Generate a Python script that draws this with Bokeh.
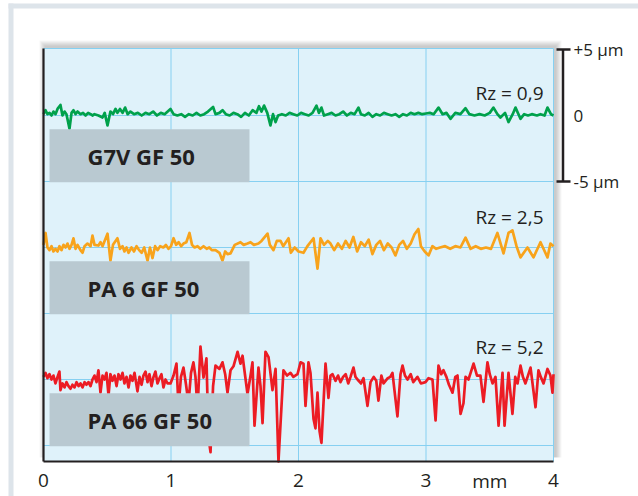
from bokeh.plotting import figure
from bokeh.models import Range1d, Grid
from bokeh.core.properties import value
from bokeh.embed import file_html
from bokeh.resources import INLINE

# ---------------- data ----------------
x_ticks = [0, 1, 2, 3, 4]
x_tick_labels = ["0", "1", "2", "3", "4"]
x_unit = "mm"
y_grid = [0, -5, -10, -15, -20, -25]
samples = ["G7V GF 50", "PA 6 GF 50", "PA 66 GF 50"]
rz_labels = ["Rz = 0,9", "Rz = 2,5", "Rz = 5,2"]
scale_ticks = [5, 0, -5]
scale_labels = ["+5 µm", "0", "-5 µm"]

# profile of G7V GF 50 (mm, µm)
green_x = [0.000, 0.016, 0.031, 0.047, 0.063, 0.078, 0.094, 0.110, 0.133, 0.149, 0.165, 0.180,
           0.204, 0.220, 0.235, 0.251, 0.267, 0.290, 0.310, 0.330, 0.350, 0.370, 0.384, 0.400,
           0.431, 0.463, 0.480, 0.502, 0.525, 0.545, 0.565, 0.580, 0.600, 0.620, 0.640, 0.660,
           0.682, 0.710, 0.740, 0.770, 0.800, 0.830, 0.860, 0.890, 0.920, 0.950, 0.996, 1.020,
           1.050, 1.080, 1.110, 1.140, 1.170, 1.200, 1.230, 1.260, 1.290, 1.330, 1.349, 1.380,
           1.404, 1.430, 1.460, 1.490, 1.520, 1.550, 1.580, 1.610, 1.640, 1.670, 1.690, 1.710,
           1.730, 1.755, 1.780, 1.800, 1.820, 1.840, 1.870, 1.900, 1.930, 1.960, 1.990, 2.020,
           2.050, 2.080, 2.110, 2.141, 2.160, 2.180, 2.200, 2.230, 2.260, 2.290, 2.320, 2.350,
           2.380, 2.410, 2.440, 2.470, 2.490, 2.520, 2.550, 2.580, 2.610, 2.640, 2.670, 2.700,
           2.730, 2.760, 2.790, 2.820, 2.850, 2.880, 2.910, 2.940, 2.970, 3.000, 3.030, 3.060,
           3.098, 3.130, 3.160, 3.192, 3.230, 3.270, 3.310, 3.340, 3.380, 3.420, 3.460, 3.500,
           3.529, 3.560, 3.584, 3.620, 3.647, 3.680, 3.702, 3.741, 3.770, 3.800, 3.830, 3.870,
           3.898, 3.930, 3.953, 3.980, 4.000]
green_y = [0.1, 0.4, 0.1, 0.2, 0.0, 0.3, 0.1, 0.5, 0.8, 0.0, 0.3, 0.1,
           -1.0, 0.2, 0.4, 0.1, 0.3, 0.1, 0.2, 0.0, 0.2, 0.1, 0.0, 0.1,
           0.0, -0.15, 0.2, -0.75, 0.3, 0.1, 0.5, 0.2, 0.5, 0.2, 0.6, 0.1,
           0.3, 0.1, 0.2, 0.0, 0.2, 0.1, 0.3, 0.0, 0.2, 0.1, 0.5, 0.1,
           0.0, 0.1, -0.1, 0.1, 0.0, 0.2, 0.0, 0.1, 0.3, 0.65, 0.1, 0.2,
           0.4, 0.1, 0.0, 0.2, 0.1, -0.1, 0.2, 0.0, 0.4, 0.2, 0.7, 0.3,
           0.75, 0.2, -0.75, 0.1, -0.5, 0.0, 0.1, 0.0, 0.2, 0.1, 0.0, 0.2,
           0.1, 0.0, 0.2, 0.75, 0.2, 0.6, 0.0, 0.1, 0.2, 0.0, 0.1, 0.3,
           0.0, 0.2, 0.1, 0.6, 0.1, 0.0, 0.2, -0.1, 0.1, 0.0, 0.2, 0.1,
           0.0, 0.1, -0.1, 0.1, 0.0, 0.2, 0.1, 0.2, 0.1, 0.15, 0.2, 0.1,
           0.6, 0.1, 0.2, -0.25, 0.2, 0.1, 0.55, 0.1, 0.0, 0.1, 0.0, 0.2,
           0.6, 0.1, -0.15, 0.2, -0.5, 0.1, 0.6, -0.25, 0.1, 0.0, 0.1, 0.0,
           0.1, 0.0, 0.6, 0.1, 0.0]

# profile of PA 6 GF 50 (mm, µm)
orange_x = [0.000, 0.016, 0.031, 0.047, 0.063, 0.078, 0.094, 0.110, 0.125, 0.141, 0.157, 0.173,
            0.188, 0.204, 0.220, 0.235, 0.251, 0.267, 0.290, 0.306, 0.322, 0.345, 0.369, 0.384,
            0.400, 0.431, 0.447, 0.463, 0.502, 0.525, 0.545, 0.580, 0.600, 0.620, 0.635, 0.651,
            0.667, 0.690, 0.710, 0.730, 0.750, 0.770, 0.790, 0.816, 0.835, 0.855, 0.875, 0.894,
            0.915, 0.940, 0.960, 0.980, 1.000, 1.020, 1.040, 1.060, 1.080, 1.098, 1.120, 1.145,
            1.165, 1.185, 1.208, 1.230, 1.255, 1.280, 1.300, 1.320, 1.349, 1.380, 1.404, 1.425,
            1.443, 1.467, 1.500, 1.545, 1.570, 1.600, 1.624, 1.650, 1.686, 1.710, 1.757, 1.775,
            1.804, 1.830, 1.859, 1.880, 1.922, 1.940, 1.970, 2.000, 2.039, 2.070, 2.118, 2.149,
            2.173, 2.200, 2.230, 2.251, 2.280, 2.310, 2.340, 2.370, 2.400, 2.430, 2.460, 2.490,
            2.520, 2.550, 2.580, 2.610, 2.640, 2.670, 2.700, 2.730, 2.760, 2.790, 2.820, 2.850,
            2.880, 2.910, 2.940, 2.960, 2.990, 3.020, 3.050, 3.080, 3.110, 3.150, 3.190, 3.230,
            3.270, 3.310, 3.350, 3.390, 3.430, 3.470, 3.510, 3.560, 3.608, 3.647, 3.678, 3.710,
            3.741, 3.796, 3.843, 3.898, 3.953, 3.976, 4.000]
orange_y = [0.2, 1.1, 0.0, -0.2, 0.1, -0.3, -0.1, -0.3, 0.1, -0.2, 0.2, 0.0,
            0.3, -0.1, 0.2, 0.7, -0.1, 0.2, -0.2, -0.4, 0.1, 0.3, 0.1, 0.9,
            0.2, 0.15, 0.4, 0.1, 1.05, -1.0, 0.2, 0.7, -0.1, 0.1, -0.3, 0.0,
            -0.4, 0.0, -0.3, 0.1, -0.2, -0.4, 0.0, -1.0, 0.0, -0.8, 0.1, -0.2,
            0.1, 0.0, 0.2, -0.1, 0.1, 0.7, 0.2, 0.4, 0.1, 0.3, 0.4, 1.1,
            0.2, 0.0, 0.1, -0.1, 0.1, -0.1, 0.0, -0.2, -0.2, -0.4, -1.0, -0.3,
            -0.5, -0.45, 0.2, 0.4, 0.2, 0.3, 0.4, 0.2, 0.3, 0.5, 1.05, 0.2,
            -0.2, 0.5, 0.5, 0.1, 0.7, -0.4, 0.0, -0.3, -0.4, 0.1, 0.7, -1.6,
            0.7, 0.2, 0.5, 0.3, -0.2, 0.3, -0.1, 0.5, 0.0, 0.8, -0.3, 0.4,
            0.1, 0.6, -0.5, 0.2, 0.5, -0.2, 0.3, 0.0, -0.6, 0.2, 0.5, -0.1,
            0.3, 1.0, 1.4, 0.1, -0.3, -0.6, 0.1, -0.1, 0.0, 0.1, -0.1, 0.1,
            0.0, 0.75, -0.1, 0.1, -0.1, 0.0, -0.1, 1.1, -0.45, 1.1, 1.3, 0.1,
            -0.75, 0.0, -0.75, 0.4, -0.75, 0.3, 0.1]

# profile of PA 66 GF 50 (mm, µm)
red_x = [0.000, 0.016, 0.031, 0.047, 0.063, 0.078, 0.094, 0.110, 0.125, 0.133, 0.149, 0.165,
         0.180, 0.196, 0.212, 0.227, 0.243, 0.259, 0.275, 0.290, 0.306, 0.322, 0.337, 0.353,
         0.369, 0.384, 0.400, 0.416, 0.431, 0.447, 0.463, 0.478, 0.494, 0.510, 0.525, 0.541,
         0.557, 0.573, 0.588, 0.604, 0.620, 0.635, 0.651, 0.667, 0.682, 0.698, 0.714, 0.737,
         0.753, 0.769, 0.784, 0.800, 0.816, 0.831, 0.847, 0.863, 0.878, 0.894, 0.910, 0.925,
         0.941, 0.957, 0.973, 0.996, 1.020, 1.043, 1.059, 1.078, 1.098, 1.118, 1.137, 1.157,
         1.176, 1.192, 1.208, 1.231, 1.255, 1.278, 1.294, 1.310, 1.330, 1.349, 1.380, 1.404,
         1.425, 1.443, 1.467, 1.490, 1.522, 1.545, 1.561, 1.600, 1.624, 1.639, 1.655, 1.686,
         1.702, 1.718, 1.741, 1.765, 1.796, 1.820, 1.843, 1.882, 1.910, 1.937, 1.960, 1.992,
         2.016, 2.039, 2.055, 2.078, 2.094, 2.118, 2.133, 2.149, 2.165, 2.180, 2.212, 2.235,
         2.251, 2.267, 2.290, 2.310, 2.329, 2.350, 2.370, 2.390, 2.408, 2.431, 2.447, 2.463,
         2.490, 2.510, 2.541, 2.565, 2.590, 2.610, 2.627, 2.650, 2.667, 2.700, 2.720, 2.737,
         2.776, 2.800, 2.816, 2.835, 2.855, 2.880, 2.900, 2.933, 2.960, 2.996, 3.020, 3.051,
         3.075, 3.098, 3.120, 3.137, 3.160, 3.180, 3.208, 3.230, 3.247, 3.271, 3.294, 3.310,
         3.333, 3.350, 3.373, 3.400, 3.427, 3.451, 3.482, 3.500, 3.522, 3.545, 3.569, 3.600,
         3.616, 3.647, 3.678, 3.700, 3.718, 3.741, 3.760, 3.780, 3.800, 3.820, 3.859, 3.882,
         3.900, 3.922, 3.953, 3.976, 3.992, 4.000]
red_y = [0.2, 0.5, 0.1, 0.4, 0.0, 0.3, -0.3, 0.2, 0.6, -0.8, -0.3, -0.6,
         -0.2, -0.5, -0.7, -0.4, -0.6, -0.2, -0.5, -0.3, -0.6, -0.2, -0.4, -0.2,
         -0.5, 0.0, 0.3, -0.2, 0.7, -1.0, 0.3, 0.0, 0.5, -1.2, 0.4, -0.1,
         0.3, -0.5, 0.4, 0.0, 0.5, -0.3, 0.2, -0.6, 0.3, -0.1, 0.5, -0.9,
         0.2, -0.4, 0.3, 0.6, -0.2, 0.4, -0.5, 0.2, 0.6, -0.3, 0.1, 0.4,
         -0.6, 0.0, -0.3, -0.3, 0.3, 1.2, -2.1, 0.2, 0.9, -0.4, -1.8, 0.5,
         1.3, 0.2, -2.3, 2.5, 0.15, 1.6, -4.4, -5.5, -0.5, 1.05, 0.8, 1.3,
         0.4, -1.0, 0.7, 1.0, 2.1, 1.2, 1.8, -1.1, 0.3, 1.3, -3.5, 0.9,
         -0.5, -3.3, 2.1, 1.7, -0.8, 0.8, -6.3, 0.7, 0.3, 0.5, 0.2, 0.4,
         1.3, 1.2, -2.0, 1.3, 0.5, -3.0, -3.7, -1.0, -3.9, -4.8, 1.2, -1.4,
         0.3, 0.4, -0.1, 0.3, -0.2, 0.2, 0.4, -0.3, 0.2, 0.9, 0.2, 0.0,
         -0.3, 0.1, -2.0, -0.2, 0.2, -0.1, -1.6, 0.3, -0.3, 0.1, 0.2, 0.5,
         -2.8, 0.4, 1.05, 0.3, 0.0, 0.4, -0.2, 0.2, -0.3, -0.2, 0.1, 0.0,
         -3.1, 1.05, 0.4, 0.7, 0.2, -0.4, -1.0, 0.2, 0.3, -2.6, -1.8, 0.2,
         0.0, 0.5, 1.2, 0.3, 0.3, -1.7, 1.3, 0.4, -0.3, 0.2, -3.5, 0.5,
         -3.5, 0.5, -2.6, 0.2, -0.3, 1.05, 0.2, -0.3, 0.3, 0.9, -2.1, 0.7,
         0.2, -0.3, 0.8, 0.3, -1.0, 0.4]

profiles = [(green_x, green_y), (orange_x, orange_y), (red_x, red_y)]

# ---------------- layout / style ----------------
W, H = 638, 496                 # canvas size (page origin)
PX_MM = 127.5                   # pixels per mm
PX_UM = 13.2                    # pixels per µm
X0_PAGE, Y0_PAGE = 43, 115      # pixel position of x=0 mm / y=0 µm


def mm(px):      # pixel x -> data x
    return (px - X0_PAGE) / PX_MM


def um(py):      # pixel y -> data y
    return (Y0_PAGE - py) / PX_UM


offsets = [0, -10, -20]           # vertical stacking of the three profiles (µm)
colors = ["#00a14b", "#f8a31b", "#ec1c24"]
dark = "#231f20"
bg_blue = "#dff2fa"
grid_blue = "#86d0f1"
box_gray = "#b9c9d1"
frame_gray = "#dde4ea"
font = "Open Sans"

x_lo, x_hi = 0, 4
y_top, y_bot = um(48), um(461)

p = figure(width=W, height=H,
           x_range=Range1d(mm(0), mm(W)), y_range=Range1d(um(H), um(0)),
           output_backend="svg", toolbar_location=None,
           x_axis_location=None, y_axis_location=None,
           min_border=0, min_border_left=0, min_border_right=0,
           min_border_top=0, min_border_bottom=0,
           background_fill_color="white", border_fill_color="white",
           outline_line_color=None)
p.center = [r for r in p.center if not isinstance(r, Grid)]

# outer light-gray frame (left and top bands)
p.quad(left=[mm(8)], right=[mm(13)], top=[um(3)], bottom=[um(H)],
       fill_color=frame_gray, line_color=None)
p.quad(left=[mm(8)], right=[mm(W)], top=[um(3)], bottom=[um(8)],
       fill_color=frame_gray, line_color=None)

# soft shadow behind the plot panel (offset up / right)
for k in range(1, 7):
    p.quad(left=[mm(43 + 2 - k)], right=[mm(553 + 2 + k)],
           top=[um(48 - 2 - k)], bottom=[um(461 - 4)],
           fill_color="black", fill_alpha=0.035, line_color=None)

# plot panel
p.quad(left=[x_lo], right=[x_hi], top=[y_top], bottom=[y_bot],
       fill_color=bg_blue, line_color=None)
p.segment(x0=x_ticks[1:], y0=[y_bot] * 4, x1=x_ticks[1:], y1=[y_top] * 4,
          line_color=grid_blue, line_width=1)
p.segment(x0=[x_lo] * len(y_grid), y0=y_grid, x1=[x_hi] * len(y_grid), y1=y_grid,
          line_color=grid_blue, line_width=1)
p.line([x_lo, x_hi], [y_top, y_top], line_color=grid_blue, line_width=1.2)

# profiles
for (xs, ys), off, c in zip(profiles, offsets, colors):
    p.line(xs, [max(v + off, y_bot) for v in ys], line_color=c, line_width=2.7,
           line_join="round")

# sample name boxes
p.quad(left=[mm(49)] * 3, right=[mm(249)] * 3,
       top=[off - 1.05 for off in offsets], bottom=[off - 5.05 for off in offsets],
       fill_color=box_gray, line_color=None)
p.text(x=[mm(87)] * 3, y=[off - 3.05 for off in offsets], text=samples,
       text_font=value(font), text_font_style="bold", text_font_size="22px",
       text_baseline="middle", text_align="left", text_color=dark)

# black axis lines (left, bottom)
p.line([x_lo, x_lo], [y_bot, y_top], line_color=dark, line_width=2.2)
p.line([x_lo, x_hi], [y_bot, y_bot], line_color=dark, line_width=2.2)

# Rz labels
rz_pos = [um(92.5), um(216.5), um(346.5)]
p.text(x=[mm(543)] * 3, y=rz_pos, text=rz_labels, text_font=value(font),
       text_font_size="19px", text_align="right", text_baseline="middle", text_color=dark)

# x tick labels and unit
p.text(x=x_ticks, y=[um(480)] * len(x_ticks), text=x_tick_labels, text_font=value(font),
       text_font_size="19px", text_align="center", text_baseline="middle", text_color=dark)
p.text(x=[3.5], y=[um(480)], text=[x_unit], text_font=value(font),
       text_font_size="19px", text_align="center", text_baseline="middle", text_color=dark)

# scale bar at right
sx = mm(562.5)
p.segment(x0=[sx], y0=[scale_ticks[0]], x1=[sx], y1=[scale_ticks[-1]],
          line_color=dark, line_width=2.5)
p.segment(x0=[mm(556)] * 2, y0=[scale_ticks[0], scale_ticks[-1]],
          x1=[mm(570)] * 2, y1=[scale_ticks[0], scale_ticks[-1]],
          line_color=dark, line_width=2.5)
p.text(x=[mm(573)] * 3, y=scale_ticks, text=scale_labels, text_font=value(font),
       text_font_size="17px", text_align="left", text_baseline="middle", text_color=dark)

open("out.html", "w").write(file_html(p, INLINE))
